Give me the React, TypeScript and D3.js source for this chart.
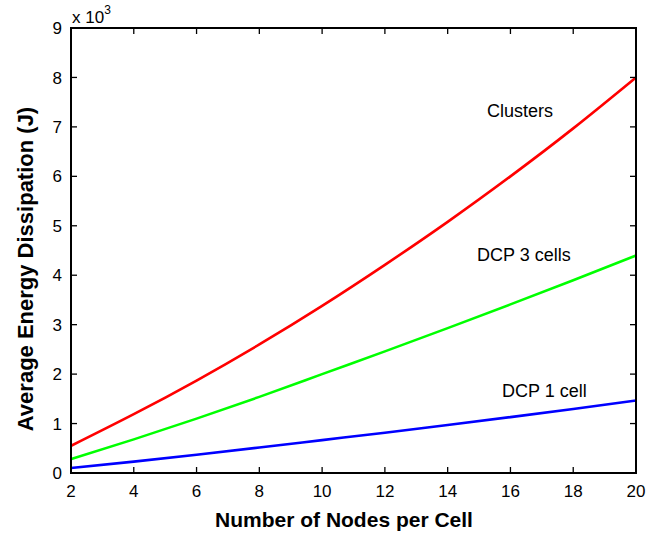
import { useEffect } from "react";
import * as d3 from "d3";

const nodes = [2, 4, 6, 8, 10, 12, 14, 16, 18, 20];
const clusters = [0.55, 1.19, 1.87, 2.6, 3.38, 4.21, 5.08, 6.0, 6.97, 8.0];
const dcp3 = [0.28, 0.68, 1.1, 1.54, 2.0, 2.46, 2.93, 3.41, 3.9, 4.4];
const dcp1 = [0.1, 0.23, 0.37, 0.515, 0.665, 0.815, 0.97, 1.13, 1.295, 1.465];
const xTicks = [2, 4, 6, 8, 10, 12, 14, 16, 18, 20];
const yTicks = [0, 1, 2, 3, 4, 5, 6, 7, 8, 9];

const seriesList = [
  { name: "Clusters", values: clusters, color: "#ff0000", lx: 487, ly: 117 },
  { name: "DCP 3 cells", values: dcp3, color: "#00ff00", lx: 477, ly: 261 },
  { name: "DCP 1 cell", values: dcp1, color: "#0000ff", lx: 502, ly: 397 },
];

const W = 664;
const H = 534;
const left = 71, right = 636, top = 28, bottom = 473;
const font = "Liberation Sans, Arial, Helvetica, sans-serif";

export default function App() {
  useEffect(() => {
    document.body.style.margin = "0";
  }, []);

  const x = d3.scaleLinear().domain([2, 20]).range([left, right]);
  const y = d3.scaleLinear().domain([0, 9]).range([bottom, top]);

  const line = d3
    .line<number>()
    .x((_, i) => x(nodes[i]))
    .y((d) => y(d))
    .curve(d3.curveNatural);

  const tickLen = 6;

  return (
    <svg width={W} height={H} style={{ display: "block", background: "#fff" }} fontFamily={font}>
      {seriesList.map((s) => (
        <path key={s.name} d={line(s.values) ?? ""} fill="none" stroke={s.color} strokeWidth={2.6} />
      ))}

      {/* frame */}
      <rect x={left} y={top} width={right - left} height={bottom - top} fill="none" stroke="#000" strokeWidth={2} />

      {/* x ticks */}
      {xTicks.map((t) => (
        <g key={"x" + t}>
          <line x1={x(t)} x2={x(t)} y1={bottom} y2={bottom - tickLen} stroke="#000" strokeWidth={1.3} />
          <line x1={x(t)} x2={x(t)} y1={top} y2={top + tickLen} stroke="#000" strokeWidth={1.3} />
          <text x={x(t)} y={497} textAnchor="middle" fontSize={17}>
            {t}
          </text>
        </g>
      ))}

      {/* y ticks */}
      {yTicks.map((t) => (
        <g key={"y" + t}>
          <line x1={left} x2={left + tickLen} y1={y(t)} y2={y(t)} stroke="#000" strokeWidth={1.3} />
          <line x1={right} x2={right - tickLen} y1={y(t)} y2={y(t)} stroke="#000" strokeWidth={1.3} />
          <text x={62} y={y(t)} dy="0.36em" textAnchor="end" fontSize={17}>
            {t}
          </text>
        </g>
      ))}

      {/* exponent */}
      <text x={72} y={23} fontSize={17}>
        x 10
        <tspan dy={-9} fontSize={12}>3</tspan>
      </text>

      {/* series labels */}
      {seriesList.map((s) => (
        <text key={"l" + s.name} x={s.lx} y={s.ly} fontSize={18}>
          {s.name}
        </text>
      ))}

      {/* axis titles */}
      <text x={344} y={527} textAnchor="middle" fontSize={21} fontWeight="bold">
        Number of Nodes per Cell
      </text>
      <text
        transform="translate(33, 269) rotate(-90)"
        textAnchor="middle"
        fontSize={22}
        fontWeight="bold"
      >
        Average Energy Dissipation (J)
      </text>
    </svg>
  );
}
